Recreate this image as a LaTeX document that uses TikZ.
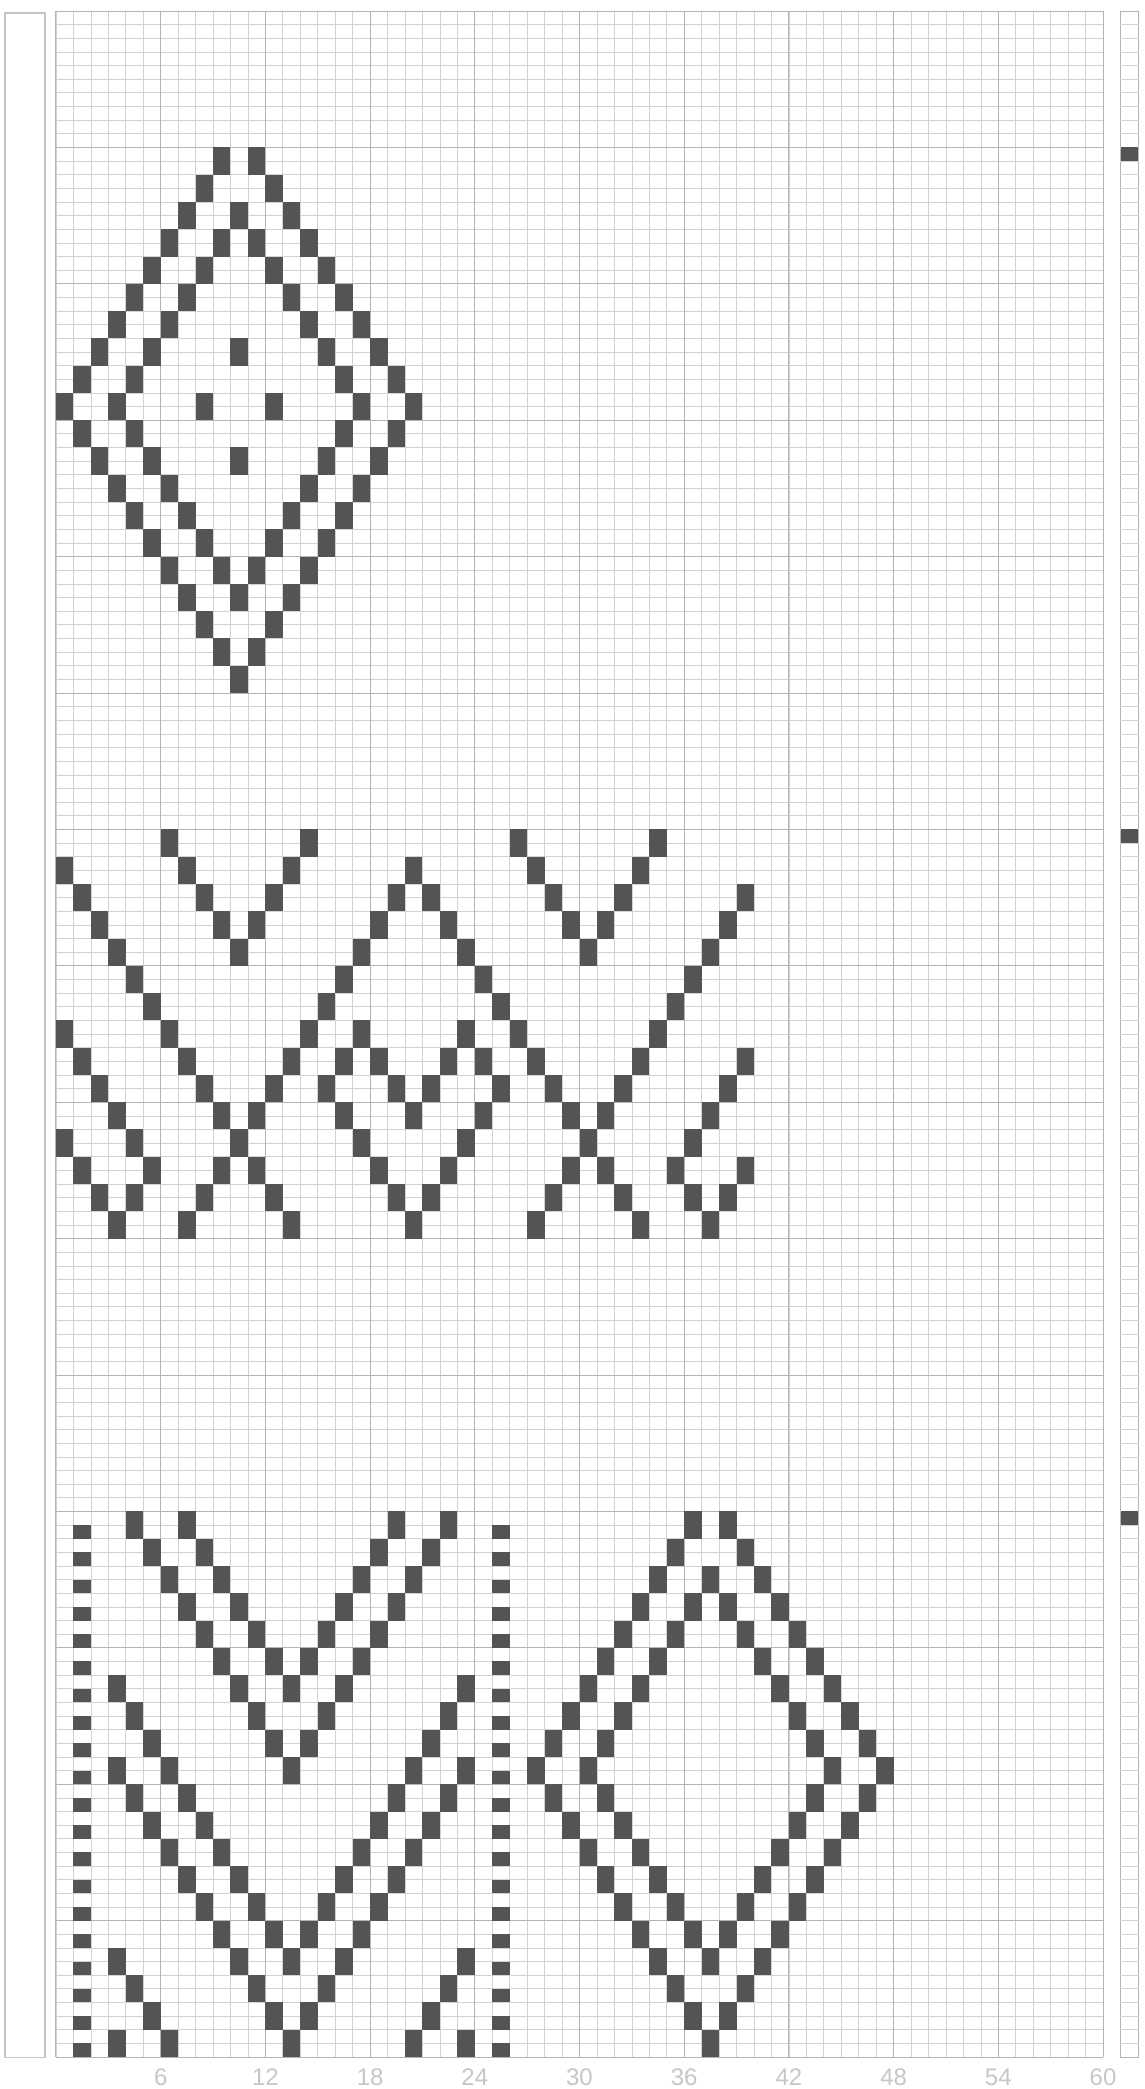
\documentclass[tikz,border=0pt]{standalone}
\usepackage{fontspec}
\setsansfont{Liberation Sans}
\definecolor{ink}{RGB}{84,84,84}
\definecolor{rule}{RGB}{210,210,210}
\definecolor{ruledark}{RGB}{180,180,180}
\newcommand\stitchat[3]{\fill[stitch] (#1,#2) rectangle ++(1,#3);}
\newcommand\rhombus[2]{%
  \foreach \p [evaluate=\p as \dx using {int(10-abs(\p-9))}] in {0,...,19}
    {\stitchat{#1-\dx}{#2+2*\p}{2}\stitchat{#1+\dx}{#2+2*\p}{2}}
  \foreach \p [evaluate=\p as \dx using {int(7-abs(\p-9))}] in {2,...,16}
    {\stitchat{#1-\dx}{#2+2*\p}{2}\stitchat{#1+\dx}{#2+2*\p}{2}}}
\begin{document}
\begin{tikzpicture}[x=8.725pt, y=-6.82pt,
   stitch/.style={fill=ink},
   thinrule/.style={draw=rule, line width=0.35pt},
   thickrule/.style={draw=ruledark, line width=0.5pt},
   colnum/.style={font=\sffamily\fontsize{12}{14}\selectfont, text=gray!45}]
\useasboundingbox (-3.209,-0.806) rectangle (62.350,152.346);
\foreach \r in {0,...,150}
  \draw[thinrule] (0,\r) -- (60,\r);
\foreach \c in {0,...,60}
  \draw[thinrule] (\c,0) -- (\c,150);
\foreach \r in {0,10,...,150}
  \draw[thickrule] (0,\r) -- (60,\r);
\foreach \c in {0,6,...,60}
  \draw[thickrule] (\c,0) -- (\c,150);
\draw[draw=gray!45, line width=0.6pt] (-2.92,0.15) rectangle (-0.63,150.05);
\draw[thickrule] (61,0) rectangle (62.05,150);
\foreach \r in {1,...,149}
  \draw[thinrule] (61,\r) -- (62.05,\r);
\foreach \r in {10,60,110}
  \fill[stitch] (61.05,\r) rectangle (62,\r+1);
\rhombus{10}{10}
\foreach \c/\r in {10/24, 8/28, 12/28, 10/32}
  {\stitchat{\c}{\r}{2}}
\foreach \q/\cols in {0/{6,14,26,34}, 1/{0,7,13,20,27,33},
    2/{1,8,12,19,21,28,32,39}, 3/{2,9,11,18,22,29,31,38},
    4/{3,10,17,23,30,37}, 5/{4,16,24,36}, 6/{5,15,25,35},
    7/{0,6,14,17,23,26,34}, 8/{1,7,13,16,18,22,24,27,33,39},
    9/{2,8,12,15,19,21,25,28,32,38}, 10/{3,9,11,16,20,24,29,31,37},
    11/{0,4,10,17,23,30,36}, 12/{1,5,9,11,18,22,29,31,35,39},
    13/{2,4,8,12,19,21,28,32,36,38}, 14/{3,7,13,20,27,33,37}}
  \foreach \c in \cols {\stitchat{\c}{60+2*\q}{2}}
\foreach \s in {102,108,122,128,142,148}
  \foreach \k in {0,...,10}
    {\pgfmathtruncatemacro\rr{\s+2*\k}
     \ifnum\rr>109 \ifnum\rr<149 \stitchat{3+\k}{\rr}{2}\stitchat{23-\k}{\rr}{2}\fi\fi}
\foreach \r in {111,113,...,149}
  {\stitchat{1}{\r}{1}\stitchat{25}{\r}{1}}
\rhombus{37}{110}
\foreach \c in {6,12,...,60}
  \node[colnum] (n\c) at (\c,151.5) {\c};
\end{tikzpicture}
\end{document}
